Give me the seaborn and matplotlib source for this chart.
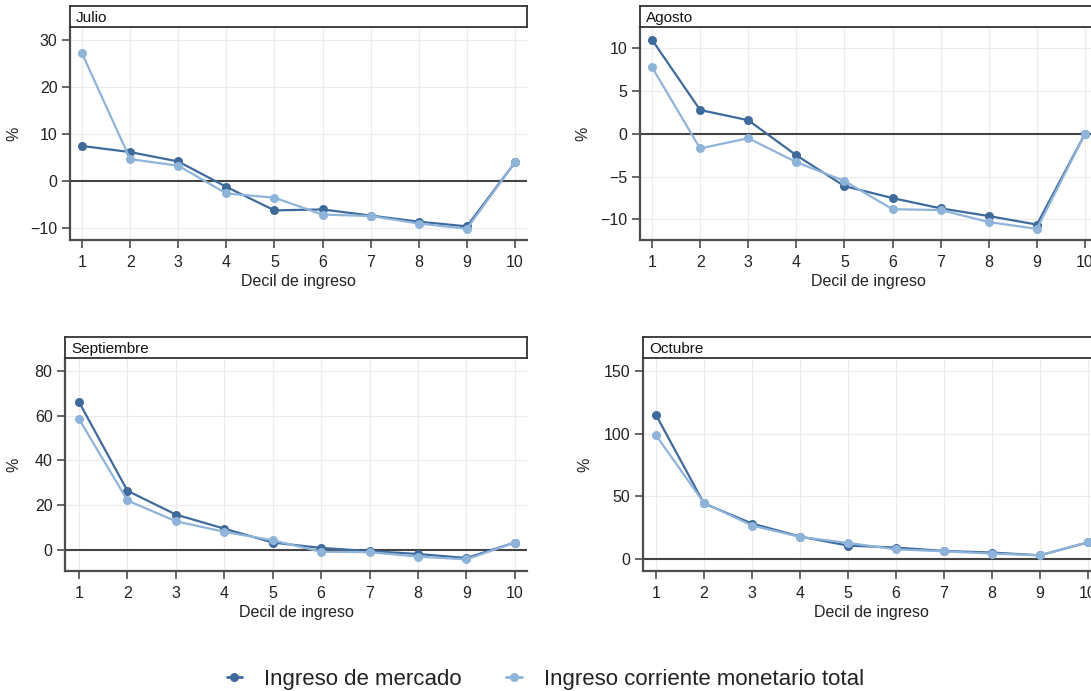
import matplotlib
matplotlib.use("Agg")
import matplotlib.pyplot as plt
import seaborn as sns
import pandas as pd
import numpy as np
from matplotlib.lines import Line2D

sns.set_theme(style="white")
plt.rcParams['font.family'] = ['Liberation Sans', 'DejaVu Sans']

deciles = [1, 2, 3, 4, 5, 6, 7, 8, 9, 10]
series_names = ["Ingreso de mercado", "Ingreso corriente monetario total"]
months = ["Julio", "Agosto", "Septiembre", "Octubre"]

julio_mercado = [7.4, 6.1, 4.1, -1.3, -6.3, -6.1, -7.4, -8.7, -9.7, 3.9]
julio_total = [27.1, 4.6, 3.2, -2.7, -3.6, -7.2, -7.5, -9.1, -10.2, 3.9]
agosto_mercado = [11.0, 2.8, 1.6, -2.5, -6.1, -7.5, -8.7, -9.6, -10.6, 0.0]
agosto_total = [7.8, -1.7, -0.5, -3.3, -5.5, -8.8, -8.9, -10.3, -11.1, 0.0]
sept_mercado = [66.0, 26.4, 15.8, 9.5, 3.3, 0.9, -0.5, -1.8, -3.6, 3.3]
sept_total = [58.4, 22.1, 12.8, 8.1, 4.3, -0.8, -1.0, -3.0, -4.2, 3.3]
oct_mercado = [115.0, 44.3, 28.3, 17.9, 10.7, 9.1, 6.4, 5.1, 2.9, 13.3]
oct_total = [98.7, 44.8, 26.7, 17.6, 12.8, 7.7, 6.1, 4.3, 2.9, 13.3]

yticks = {
    "Julio": [-10, 0, 10, 20, 30],
    "Agosto": [-10, -5, 0, 5, 10],
    "Septiembre": [0, 20, 40, 60, 80],
    "Octubre": [0, 50, 100, 150],
}
ylims = {
    "Julio": (-12.6, 32.7),
    "Agosto": (-12.4, 12.5),
    "Septiembre": (-9.4, 85.7),
    "Octubre": (-9.6, 160.4),
}

data = {
    "Julio": (julio_mercado, julio_total),
    "Agosto": (agosto_mercado, agosto_total),
    "Septiembre": (sept_mercado, sept_total),
    "Octubre": (oct_mercado, oct_total),
}

rows = []
for m in months:
    for name, vals in zip(series_names, data[m]):
        for d, v in zip(deciles, vals):
            rows.append({"mes": m, "serie": name, "decil": d, "valor": v})
df = pd.DataFrame(rows)

palette = {series_names[0]: "#3f6b9c", series_names[1]: "#8fb4da"}

W, H = 1091, 691
fig = plt.figure(figsize=(W / 100, H / 100), dpi=100)

# pixel boxes: (left, top, right, bottom) for plot area
boxes = {
    "Julio": (70, 27, 527, 240),
    "Agosto": (640, 27, 1097, 240),
    "Septiembre": (65, 358, 527, 571),
    "Octubre": (643, 358, 1100, 571),
}
xlims = {
    "Julio": (0.75, 10.25),
    "Agosto": (0.75, 10.25),
    "Septiembre": (0.71, 10.25),
    "Octubre": (0.73, 10.25),
}
ylabel_x = {"Julio": 14, "Agosto": 583, "Septiembre": 14, "Octubre": 585}

spine_col = "#4d4d4d"
text_col = "#222222"
for m in months:
    l, t, r, b = boxes[m]
    ax = fig.add_axes([l / W, 1 - b / H, (r - l) / W, (b - t) / H])
    sub = df[df["mes"] == m]
    ax.axhline(0, color="#444444", lw=1.5, zorder=1)
    sns.lineplot(data=sub, x="decil", y="valor", hue="serie", hue_order=series_names,
                 palette=palette, marker="o", markersize=6.5, markeredgewidth=0,
                 linewidth=1.6, ax=ax, legend=False, zorder=3)
    ax.set_xlim(*xlims[m])
    ax.set_ylim(*ylims[m])
    ax.set_xticks(deciles)
    ax.set_yticks(yticks[m])
    ax.grid(True, color="#ebebeb", lw=0.8)
    ax.set_axisbelow(True)
    for s in ["top", "right"]:
        ax.spines[s].set_visible(False)
    for s in ["left", "bottom"]:
        ax.spines[s].set_color(spine_col)
        ax.spines[s].set_linewidth(1.6)
    ax.tick_params(axis="both", direction="out", length=6, width=1.2, color=spine_col,
                   labelsize=11.5, labelcolor=text_col, bottom=True, left=True)
    ax.tick_params(axis="x", pad=5)
    ax.tick_params(axis="y", pad=3)
    ax.set_xlabel("Decil de ingreso", fontsize=11.5, color=text_col, labelpad=3)
    ax.set_ylabel("%", fontsize=11.5, color=text_col, va="center", ha="center")
    ax.yaxis.set_label_coords((ylabel_x[m] - l) / (r - l), 0.5)
    # header strip
    hax = fig.add_axes([l / W, 1 - t / H, (r - l) / W, 21 / H])
    hax.set_xticks([])
    hax.set_yticks([])
    hax.set_facecolor("white")
    for s in hax.spines.values():
        s.set_color("#333333")
        s.set_linewidth(1.3)
    hax.text(6 / (r - l), 0.45, m, transform=hax.transAxes, ha="left", va="center",
             fontsize=11, color="#111111")

leg_handles = [Line2D([0], [0], color=palette[n], marker="o", markersize=6.5,
                      markeredgewidth=0, lw=2) for n in series_names]
fig.legend(leg_handles, series_names, loc="center", bbox_to_anchor=(0.5, 1 - 679 / H),
           ncol=2, frameon=False, fontsize=16, handlelength=0.7, columnspacing=2.0,
           handletextpad=1.0, labelcolor=text_col)

fig.savefig("out.png", dpi=100)
